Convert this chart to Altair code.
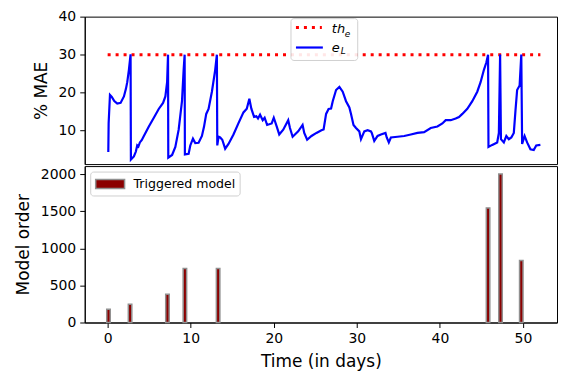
import altair as alt
import pandas as pd

# ---- data ----
days = [0.08, 0.12, 0.28, 0.5, 0.8, 1.16, 1.56, 1.96, 2.2, 2.36, 2.56, 2.76,
        2.8, 3.16, 3.4, 3.56, 3.7, 3.88, 4.1, 4.36, 4.96, 5.56, 6.15, 6.67, 6.95, 7.16, 7.27,
        7.3, 7.76, 8.15, 8.55, 8.95, 9.15, 9.27,
        9.3, 9.75, 9.95, 10.27, 10.55, 10.95, 11.35, 11.6, 11.87, 12.15, 12.55, 12.95, 13.15,
        13.2, 13.35, 13.55, 13.8, 14.15, 14.55, 15.15, 15.74, 16.35, 16.75, 17.06, 17.3, 17.63,
        17.9, 18.1, 18.35, 18.67, 18.9, 19.2, 19.75, 20.0, 20.35, 20.66, 21.14, 21.74, 21.95,
        22.27, 22.94, 23.47, 23.67, 24.02, 24.54, 25.14, 25.74, 26.0, 26.3, 26.6, 26.9, 27.1,
        27.5, 27.9, 28.3, 28.7, 29.1, 29.3, 29.6, 29.9, 30.3, 30.5, 30.9, 31.3, 31.7, 31.8,
        32.1, 32.5, 32.9, 33.45, 33.6, 33.85, 34.1, 34.9, 35.7, 36.5, 37.3, 38.1, 38.9, 39.7,
        40.3, 40.7, 41.3, 41.9, 42.3, 42.7, 43.3, 43.9, 44.5, 44.9, 45.3, 45.6, 45.8,
        45.85, 46.3, 46.9, 47.1, 47.25, 47.35, 47.7, 48.0, 48.3, 48.6, 48.9, 49.1, 49.3, 49.6,
        49.8, 49.9, 50.2, 50.5, 50.9, 51.3, 51.6, 52.1]
mae = [4.4, 12.0, 19.4, 18.9, 17.8, 17.1, 17.3, 19.0, 21.0, 22.75, 26.0, 30.1,
       2.4, 3.2, 4.5, 6.1, 5.8, 6.9, 7.5, 8.6, 11.1, 13.4, 15.7, 17.3, 19.0, 22.75, 30.0,
       2.9, 3.6, 5.7, 10.25, 17.75, 26.0, 30.0,
       3.75, 3.9, 6.1, 7.9, 6.75, 6.8, 8.6, 11.0, 14.4, 15.7, 20.25, 26.0, 30.0,
       6.1, 8.4, 8.2, 7.6, 5.25, 6.5, 9.0, 11.9, 14.8, 15.75, 18.4, 15.8, 13.6,
       13.8, 13.2, 14.2, 12.75, 13.4, 11.5, 11.9, 13.4, 11.1, 9.0, 10.25, 12.75, 10.7,
       8.4, 9.8, 11.5, 9.4, 7.6, 8.6, 9.4, 10.1, 10.3, 14.4, 15.7, 15.8, 17.75,
       20.7, 21.5, 20.25, 17.75, 16.1, 14.4, 11.5, 10.7, 9.8, 7.75, 9.8, 10.1, 9.8, 9.4,
       7.3, 8.6, 9.0, 9.4, 8.2, 6.9, 8.2, 8.4, 8.6, 9.0, 9.4, 9.6, 10.7, 11.1,
       11.9, 12.75, 12.75, 13.2, 13.6, 14.4, 15.75, 17.75, 20.25, 22.75, 26.0, 28.0, 30.0,
       5.7, 6.25, 6.9, 9.4, 30.0, 7.75, 6.9, 8.6, 7.75, 8.2, 9.4, 15.25, 20.7, 21.9,
       30.0, 6.5, 8.6, 6.9, 5.1, 4.9, 6.1, 6.25]
th_days = [0.0, 52.1]
th_vals = [30, 30]
bar_days = [0.1, 2.7, 7.2, 9.3, 13.3, 45.8, 47.3, 49.8]
bar_orders = [179, 246, 380, 730, 730, 1546, 2003, 837]
top_ticks = [10, 20, 30, 40]
bottom_ticks = [0, 500, 1000, 1500, 2000]
x_ticks = [0, 10, 20, 30, 40, 50]

FONT = "DejaVu Sans"
line_df = pd.DataFrame({"day": days, "mae": mae, "i": list(range(len(days)))})
th_df = pd.DataFrame({"day": th_days, "mae": th_vals})
bar_df = pd.DataFrame({"day": bar_days, "order": bar_orders})
one = pd.DataFrame({"k": [0]})

xscale = alt.Scale(domain=[-2.76, 54.1], nice=False, zero=False, padding=0)
ytop = alt.Scale(domain=[1.2, 40], nice=False, zero=False, padding=0)
ybot = alt.Scale(domain=[0, 2110], nice=False, padding=0)

th_line = alt.Chart(th_df).mark_line(color="red", strokeWidth=3, strokeDash=[3, 5]).encode(
    x=alt.X("day:Q", scale=xscale, axis=None),
    y=alt.Y("mae:Q", scale=ytop, axis=alt.Axis(values=top_ticks, title="% MAE", format="d")),
)
e_line = alt.Chart(line_df).mark_line(color="blue", strokeWidth=2.2).encode(
    x=alt.X("day:Q", scale=xscale, axis=None),
    y=alt.Y("mae:Q", scale=ytop),
    order="i:Q",
)

def box(x1, x2, y1, y2):
    return alt.Chart(one).mark_rect(fill="white", stroke="#cccccc", strokeWidth=1,
                                    cornerRadius=3, opacity=0.9).encode(
        x=alt.value(x1), x2=alt.value(x2), y=alt.value(y1), y2=alt.value(y2))

def txt(s, x, y, size, italic=False):
    kw = dict(text=s, fontSize=size, font=FONT, align="left", baseline="middle", color="black")
    if italic:
        kw["fontStyle"] = "italic"
    return alt.Chart(one).mark_text(**kw).encode(x=alt.value(x), y=alt.value(y))

leg_top = [
    box(207, 274, 2, 44),
    alt.Chart(one).mark_rule(color="red", strokeWidth=3, strokeDash=[3, 5]).encode(
        x=alt.value(212), x2=alt.value(238), y=alt.value(11)),
    alt.Chart(one).mark_rule(color="blue", strokeWidth=2.2).encode(
        x=alt.value(212), x2=alt.value(239), y=alt.value(31)),
    txt("th", 248, 12, 13, True),
    txt("e", 261, 17, 9, True),
    txt("e", 248, 31, 13, True),
    txt("L", 257, 35, 9, True),
]

top = alt.layer(th_line, e_line, *leg_top).properties(width=474, height=148)

bars = alt.Chart(bar_df).mark_bar(size=3.5, color="#8b0000", stroke="#909090",
                                  strokeWidth=1.5, orient="vertical").encode(
    x=alt.X("day:Q", scale=xscale, axis=alt.Axis(values=x_ticks, title="Time (in days)", format="d")),
    y=alt.Y("order:Q", scale=ybot, axis=alt.Axis(values=bottom_ticks, title="Model order", format="d")),
)
leg_bot = [
    box(6, 156, 6, 30),
    alt.Chart(one).mark_rect(fill="#8b0000", stroke="#909090", strokeWidth=1.5).encode(
        x=alt.value(11), x2=alt.value(40), y=alt.value(13.5), y2=alt.value(22.5)),
    txt("Triggered model", 49, 18, 12.6),
]
bottom = alt.layer(bars, *leg_bot).properties(width=474, height=157)

chart = alt.vconcat(top, bottom, spacing=0).properties(
    padding={"left": 5, "top": 0, "right": 0, "bottom": 0}
).configure_view(stroke="black", strokeWidth=1).configure_axis(
    labelFont=FONT, titleFont=FONT, labelFontSize=14, titleFontSize=17,
    labelColor="black", titleColor="black", tickColor="black", domainColor="black",
    tickSize=5, labelPadding=4, titlePadding=8, grid=False, titleFontWeight="normal",
    labelFlush=False,
)

chart.save("out.html", embed_options={"renderer": "svg", "actions": False})
